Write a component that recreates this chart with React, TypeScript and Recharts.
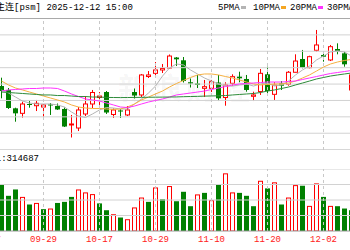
import { Bar, ComposedChart, Line, ReferenceLine, XAxis, YAxis } from "recharts"

const dates = [
  "09-17", "09-18", "09-19", "09-22", "09-23", "09-24", "09-25", "09-26", "09-29", "09-30",
  "10-09", "10-10", "10-13", "10-14", "10-15", "10-16", "10-17", "10-20", "10-21", "10-22",
  "10-23", "10-24", "10-27", "10-28", "10-29", "10-30", "10-31", "11-03", "11-04", "11-05",
  "11-06", "11-07", "11-10", "11-11", "11-12", "11-13", "11-14", "11-17", "11-18", "11-19",
  "11-20", "11-21", "11-24", "11-25", "11-26", "11-27", "11-28", "12-01", "12-02", "12-03",
  "12-04", "12-05", "12-08",
]

// bars start at 09-19
const open = [
  54880, 54640, 53520, 53215, 53785, 53680, 53600, 53755, 53660, 53480,
  52505, 52320, 53175, 53785, 54180, 54515, 53145, 53390, 53115, 54515,
  54335, 55460, 55655, 55860, 55980, 56620, 56450, 55110, 55035, 54740,
  54740, 55095, 54180, 55045, 55450, 55310, 54255, 54545, 55595, 54375,
  55045, 54985, 55720, 56530, 56000, 57060, 56775, 56470, 57140, 56875,
  54640,
]
const high = [
  55390, 54760, 53560, 53925, 53965, 54030, 53755, 53845, 53815, 53570,
  53115, 53600, 54270, 54640, 54515, 54575, 53510, 53480, 53660, 54730,
  55615, 55795, 56345, 56225, 56805, 56650, 56650, 55340, 55555, 55250,
  55250, 55555, 55110, 55595, 55755, 55555, 54535, 55920, 56060, 55110,
  55185, 55795, 56815, 57080, 56730, 58300, 56975, 57385, 57485, 56975,
  55735,
]
const low = [
  54130, 53480, 52705, 52950, 53560, 53355, 53010, 53115, 53420, 52380,
  51740, 52135, 53050, 53540, 53725, 53175, 52930, 52930, 53050, 54120,
  54210, 55370, 55400, 55675, 55920, 56100, 55095, 54790, 54760, 54210,
  54515, 53965, 53680, 54900, 55110, 54535, 53965, 54335, 54335, 54030,
  54640, 54900, 55700, 55960, 55960, 56975, 56365, 56405, 56815, 56060,
  54515,
]
const close = [
  54575, 53540, 53215, 53785, 53725, 53825, 53725, 53695, 53450, 52410,
  52565, 53420, 53785, 54485, 54270, 53265, 53420, 53325, 53420, 54300,
  55555, 55555, 55860, 55950, 56710, 56510, 55185, 55035, 54945, 54840,
  55145, 54130, 54945, 55450, 55350, 54640, 54335, 55655, 54575, 54945,
  54900, 55720, 56405, 56000, 56670, 57385, 56670, 57280, 57015, 56205,
  55555,
]
const volume = [
  301000, 227000, 268000, 220000, 171000, 181000, 141000, 145000, 181000, 188000,
  220000, 268000, 249000, 238000, 178000, 134000, 108000, 87000, 76000, 152000,
  216000, 188000, 281000, 205000, 290000, 192000, 253000, 160000, 236000, 246000,
  199000, 301000, 372000, 249000, 246000, 227000, 160000, 324000, 275000, 314000,
  171000, 216000, 296000, 292000, 162000, 307000, 220000, 162000, 160000, 145000,
  134000,
]
// 1 = red (hollow) volume bar
const volUp = [
  0, 0, 0, 1, 0, 1, 0, 1, 0, 0,
  0, 1, 1, 1, 0, 0, 1, 0, 1, 1,
  1, 0, 1, 0, 1, 0, 0, 0, 1, 0,
  1, 0, 1, 1, 0, 0, 0, 1, 0, 1,
  0, 1, 1, 0, 1, 1, 0, 1, 0, 0,
  0,
]
const ma5 = [
  54640, 54455, 54210, 53965, 53845, 53785, 53785, 53785, 53725, 53600,
  53295, 53050, 52960, 53175, 53420, 53570, 53540, 53480, 53480, 53785,
  54090, 54455, 54880, 55490, 55980, 56225, 56165, 55860, 55615, 55370,
  55185, 55005, 54880, 54880, 54945, 55005, 54880, 55005, 55065, 54880,
  54945, 55185, 55555, 55860, 56100, 56470, 56710, 56955, 57015, 56955,
  56710,
]
const ma10 = [
  55185, 54945, 54760, 54640, 54515, 54395, 54270, 54150, 54030, 53905,
  53725, 53600, 53540, 53510, 53510, 53480, 53450, 53480, 53600, 53785,
  54030, 54210, 54395, 54575, 54820, 55035, 55220, 55400, 55555, 55615,
  55615, 55555, 55460, 55370, 55250, 55125, 55005, 54945, 54975, 55005,
  55005, 55065, 55185, 55370, 55555, 55795, 56040, 56225, 56345, 56440,
  56500,
]
const ma20 = [
  54575, 54640, 54670, 54700, 54730, 54730, 54760, 54760, 54730, 54575,
  54395, 54240, 54090, 54030, 53965, 53845, 53725, 53600, 53570, 53660,
  53785, 53905, 54000, 54090, 54210, 54335, 54395, 54455, 54515, 54575,
  54670, 54760, 54850, 54945, 55005, 55035, 55065, 55095, 55125, 55125,
  55125, 55155, 55185, 55280, 55370, 55460, 55555, 55645, 55705, 55765,
  55830,
]
const ma30 = [
  54515, 54485, 54455, 54425, 54395, 54365, 54335, 54335, 54300, 54300,
  54270, 54240, 54240, 54210, 54210, 54185, 54180, 54175, 54180, 54185,
  54190, 54195, 54200, 54205, 54210, 54215, 54230, 54240, 54250, 54265,
  54275, 54285, 54300, 54335, 54365, 54395, 54425, 54485, 54575, 54640,
  54730, 54820, 54945, 55065, 55185, 55310, 55400, 55490, 55555, 55615,
  55675,
]

const dateTicks = ["09-17", "09-29", "10-17", "10-29", "11-10", "11-20", "12-02"]
const priceGrid = [51000, 52000, 53000, 54000, 55000, 56000, 57000, 58000, 59000]
const volGrid = [100000, 200000, 300000, 400000]

const UP = "#ff0000"
const DOWN = "#008000"
const GRID = "#d2d2d2"

const lead = dates.length - open.length
const rows = dates.map((d, i) => {
  const k = i - lead
  if (k < 0 || k >= open.length) return { d }
  return {
    d,
    o: open[k],
    h: high[k],
    l: low[k],
    c: close[k],
    v: volume[k],
    vu: volUp[k],
    ma5: ma5[k],
    ma10: ma10[k],
    ma20: ma20[k],
    ma30: ma30[k],
  }
})

function Candle(props: any) {
  const { x, y, width, height, payload } = props
  if (!payload || payload.h == null || !height) return <g />
  const top = Math.min(y, y + height)
  const span = Math.abs(height)
  const k = span / (payload.h - payload.l)
  const toY = (v: number) => top + (payload.h - v) * k
  const cx = x + width / 2
  const bTop = toY(Math.max(payload.o, payload.c))
  const bh = Math.max(toY(Math.min(payload.o, payload.c)) - bTop, 1)
  if (payload.c >= payload.o) {
    return (
      <g>
        <line x1={cx} x2={cx} y1={top} y2={bTop} stroke={UP} />
        <line x1={cx} x2={cx} y1={bTop + bh} y2={top + span} stroke={UP} />
        <rect x={cx - 2} y={bTop} width={4} height={bh} fill="#fff" stroke={UP} />
      </g>
    )
  }
  return (
    <g>
      <line x1={cx} x2={cx} y1={top} y2={top + span} stroke={DOWN} />
      <rect x={cx - 2.5} y={bTop} width={5} height={bh} fill={DOWN} />
    </g>
  )
}

function VolBar(props: any) {
  const { x, y, width, height, payload } = props
  if (!payload || payload.v == null) return <g />
  const cx = x + width / 2
  if (payload.vu) {
    return <rect x={cx - 2} y={y + 0.5} width={4} height={Math.max(height - 0.5, 0)} fill="#fff" stroke={UP} />
  }
  return <rect x={cx - 2.5} y={y} width={5} height={height} fill={DOWN} />
}

const mono = { fontFamily: "'Liberation Mono', 'Noto Sans CJK SC', monospace", fontSize: 9, lineHeight: "10px" }

export default function App() {
  const chartW = dates.length * 7
  return (
    <div style={{ position: "fixed", left: 0, top: 0, width: 350, height: 250, overflow: "hidden", background: "#fff" }}>
      <div style={{ ...mono, position: "absolute", left: -4, top: 3, whiteSpace: "nowrap", color: "#000" }}>
        主连[psm] 2025-12-12 15:00
      </div>
      {[
        { t: "5PMA", x: 218, c: "#b4b4b4" },
        { t: "10PMA", x: 253, c: "#f5a623" },
        { t: "20PMA", x: 290, c: "#ff33ff" },
        { t: "30PMA", x: 327, c: DOWN },
      ].map((it) => (
        <div key={it.t} style={{ ...mono, position: "absolute", left: it.x, top: 3, whiteSpace: "nowrap", color: "#000" }}>
          {it.t}
          <span style={{ display: "inline-block", width: 5, height: 3, background: it.c, marginLeft: 1, verticalAlign: "middle" }} />
        </div>
      ))}
      <div
        style={{
          position: "absolute",
          left: 118,
          top: 64,
          fontFamily: "'Noto Sans CJK SC', sans-serif",
          fontSize: 30,
          fontWeight: 700,
          letterSpacing: 4,
          color: "rgba(0,0,0,0.05)",
          whiteSpace: "nowrap",
        }}
      >
        新浪财经
      </div>
      <div style={{ position: "absolute", left: -16, top: 18 }}>
        <ComposedChart width={chartW} height={132} data={rows} margin={{ top: 0, right: 0, bottom: 0, left: 0 }}>
          <XAxis dataKey="d" hide />
          <YAxis hide domain={[50978, 59030]} allowDataOverflow />
          {priceGrid.map((p) => (
            <ReferenceLine key={p} y={p} stroke={p === 59000 ? "#a8a8a8" : GRID} />
          ))}
          {dateTicks.map((d) => (
            <ReferenceLine key={d} x={d} stroke="#c8c8c8" strokeDasharray="3 3" />
          ))}
          <Bar dataKey={(r: any) => (r.h == null ? null : [r.l, r.h])} barSize={5} shape={Candle} isAnimationActive={false} />
          <Line dataKey="ma5" stroke="#b4b4b4" strokeWidth={1} dot={false} isAnimationActive={false} />
          <Line dataKey="ma10" stroke="#f5b041" strokeWidth={1} dot={false} isAnimationActive={false} />
          <Line dataKey="ma20" stroke="#ff33ff" strokeWidth={1} dot={false} isAnimationActive={false} />
          <Line dataKey="ma30" stroke="#2e8b3a" strokeWidth={1} dot={false} isAnimationActive={false} />
        </ComposedChart>
      </div>
      <div style={{ ...mono, position: "absolute", left: -15, top: 154, whiteSpace: "nowrap", color: "#000" }}>
        VOL:314687
      </div>
      <div style={{ position: "absolute", left: -16, top: 169 }}>
        <ComposedChart width={chartW} height={81} data={rows} margin={{ top: 0, right: 0, bottom: 0, left: 0 }}>
          <XAxis
            dataKey="d"
            ticks={dateTicks}
            interval={0}
            height={19}
            tickLine={false}
            tickSize={3}
            tickMargin={2}
            axisLine={{ stroke: "#9a9a9a" }}
            tick={{ fill: "#ff2020", fontSize: 9, fontFamily: "'Liberation Mono', monospace" }}
          />
          <YAxis hide domain={[0, 400000]} allowDataOverflow />
          {volGrid.map((v) => (
            <ReferenceLine key={v} y={v} stroke={GRID} />
          ))}
          {dateTicks.map((d) => (
            <ReferenceLine key={d} x={d} stroke="#c8c8c8" strokeDasharray="3 3" />
          ))}
          <Bar dataKey="v" barSize={5} shape={VolBar} isAnimationActive={false} />
        </ComposedChart>
      </div>
    </div>
  )
}
